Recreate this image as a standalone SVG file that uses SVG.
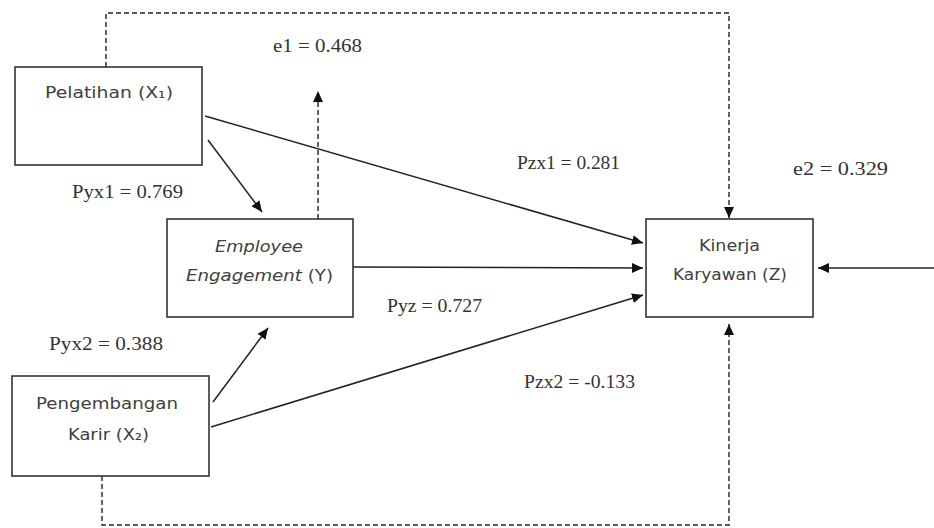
<svg xmlns="http://www.w3.org/2000/svg" width="934" height="528" viewBox="0 0 934 528">
<style>
.box{fill:#fff;stroke:#333;stroke-width:1.6}
.nt{font-family:"DejaVu Sans","Liberation Sans",sans-serif;font-size:15px;fill:#404040;text-anchor:middle}
.lb{font-family:"Liberation Serif","Times New Roman",serif;font-size:18px;fill:#333}
.ln{fill:none;stroke:#222;stroke-width:1.5}
.ds{fill:none;stroke:#222;stroke-width:1.4;stroke-dasharray:5,3}
</style>
<defs>
<marker id="ah" markerUnits="userSpaceOnUse" markerWidth="11" markerHeight="10" refX="11" refY="5" orient="auto">
<path d="M0,0 L11,5 L0,10 z" fill="#111"/>
</marker>
</defs>
<g id="connectors">
<path class="ds" d="M106,67 V13 H729 V218" marker-end="url(#ah)"/>
<path class="ds" d="M102,476 V525 H729 V324" marker-end="url(#ah)"/>
<path class="ds" d="M318,219 V91" marker-end="url(#ah)"/>
<path class="ln" d="M205,116 L643,243" marker-end="url(#ah)"/>
<path class="ln" d="M208,140 L262,212" marker-end="url(#ah)"/>
<path class="ln" d="M353,267 L643,268" marker-end="url(#ah)"/>
<path class="ln" d="M213,402 L268,328" marker-end="url(#ah)"/>
<path class="ln" d="M211,427 L643,295" marker-end="url(#ah)"/>
<path class="ln" d="M934,268 L818,268" marker-end="url(#ah)"/>
</g>
<g id="labels">
<text class="lb" x="273" y="52" textLength="89" lengthAdjust="spacingAndGlyphs">e1 = 0.468</text>
<text class="lb" x="72" y="198" textLength="111" lengthAdjust="spacingAndGlyphs">Pyx1 = 0.769</text>
<text class="lb" x="517" y="169" textLength="103" lengthAdjust="spacingAndGlyphs">Pzx1 = 0.281</text>
<text class="lb" x="793" y="175" textLength="95" lengthAdjust="spacingAndGlyphs">e2 = 0.329</text>
<text class="lb" x="387" y="312" textLength="95" lengthAdjust="spacingAndGlyphs">Pyz = 0.727</text>
<text class="lb" x="49" y="350" textLength="114" lengthAdjust="spacingAndGlyphs">Pyx2 = 0.388</text>
<text class="lb" x="524" y="388" textLength="111" lengthAdjust="spacingAndGlyphs">Pzx2 = -0.133</text>
</g>
<g id="pelatihan">
<rect class="box" x="15" y="67" width="187" height="98"/>
<text class="nt" x="109" y="98" textLength="128" lengthAdjust="spacingAndGlyphs">Pelatihan (X₁)</text>
</g>
<g id="employee-engagement">
<rect class="box" x="167" y="219" width="186" height="98"/>
<text class="nt" x="259" y="252" font-style="italic" textLength="88" lengthAdjust="spacingAndGlyphs">Employee</text>
<text class="nt" x="259.5" y="281" textLength="147" lengthAdjust="spacingAndGlyphs"><tspan font-style="italic">Engagement</tspan> (Y)</text>
</g>
<g id="pengembangan-karir">
<rect class="box" x="12" y="376" width="197" height="100"/>
<text class="nt" x="107" y="409" textLength="142" lengthAdjust="spacingAndGlyphs">Pengembangan</text>
<text class="nt" x="108.5" y="440" textLength="81" lengthAdjust="spacingAndGlyphs">Karir (X₂)</text>
</g>
<g id="kinerja-karyawan">
<rect class="box" x="646" y="219" width="167" height="98"/>
<text class="nt" x="729.5" y="251" textLength="61" lengthAdjust="spacingAndGlyphs">Kinerja</text>
<text class="nt" x="730" y="280" textLength="114" lengthAdjust="spacingAndGlyphs">Karyawan (Z)</text>
</g>
</svg>
